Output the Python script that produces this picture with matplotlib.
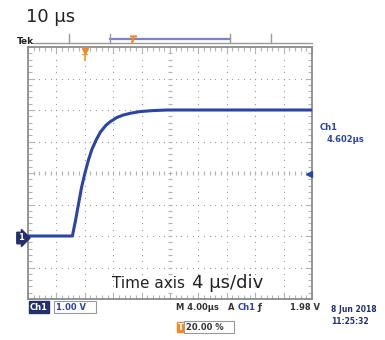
import matplotlib.pyplot as plt
from matplotlib.lines import Line2D
import numpy as np

# trace: time in us (trigger = 0), level in V
time_us = [-8.0, -1.75, -1.3, -0.9, -0.45, 0.0, 0.5, 1.0, 1.6, 2.2, 3.0,
           3.6, 4.5, 5.4, 6.5, 7.8, 9.5, 11.6, 32.0]
volts = [0.0, 0.0, 0.5, 1.0, 1.55, 1.98, 2.4, 2.75, 3.05, 3.3, 3.52,
         3.63, 3.76, 3.84, 3.9, 3.95, 3.98, 4.0, 4.0]

time_per_div = 4.0
volt_per_div = 1.0
trig_level = 1.98

W, H = 385, 340
BLUE = "#2b45a6"
NAVY = "#24306e"
ORANGE = "#f08a24"
GRAY = "#9a9a9a"
LIGHT = "#b4b4b4"


def fx(x):
    return x / W


def fy(y):
    return 1 - y / H


fig = plt.figure(figsize=(W / 100, H / 100), dpi=100)
ax = fig.add_axes([fx(28), fy(299), (312 - 28) / W, (299 - 47) / H])

x0, x1 = -8, 32
y0, y1 = -2, 6
ax.set_xlim(x0, x1)
ax.set_ylim(y0, y1)

# dotted graticule
xs_major = np.arange(x0, x1 + 0.01, time_per_div)
ys_major = np.arange(y0, y1 + 0.01, volt_per_div)
xs_minor = np.arange(x0, x1 + 0.01, time_per_div / 5)
ys_minor = np.arange(y0, y1 + 0.01, volt_per_div / 5)
for xv in xs_major[1:-1]:
    ax.scatter(np.full(len(ys_minor), xv), ys_minor, s=0.8, color=GRAY, lw=0, zorder=1)
for yv in ys_major[1:-1]:
    ax.scatter(xs_minor, np.full(len(xs_minor), yv), s=0.8, color=GRAY, lw=0, zorder=1)

# centre cross with small ticks
xc, yc = (x0 + x1) / 2, (y0 + y1) / 2
ax.plot(xs_minor, np.full(len(xs_minor), yc), ls="none", marker="|", ms=3.5, mew=0.8, color=LIGHT, zorder=1)
ax.plot(np.full(len(ys_minor), xc), ys_minor, ls="none", marker="_", ms=3.5, mew=0.8, color=LIGHT, zorder=1)

ax.set_xticks(xs_major)
ax.set_yticks(ys_major)
ax.set_xticks(xs_minor, minor=True)
ax.set_yticks(ys_minor, minor=True)
ax.tick_params(which="both", direction="in", top=True, right=True,
               labelbottom=False, labelleft=False, color=LIGHT, width=0.8)
ax.tick_params(which="major", length=4)
ax.tick_params(which="minor", length=3)
for s in ax.spines.values():
    s.set_color("#8c8c8c")
    s.set_linewidth(1.3)

ax.plot(time_us, volts, color=BLUE, lw=2.2, solid_joinstyle="round", zorder=3)

# trigger level arrow on the right edge
ax.plot([x1 - 0.4], [trig_level], marker="<", ms=5, color=BLUE, clip_on=False, zorder=4)
# trigger position marker
ax.plot([0], [y1 - 0.12], marker="v", ms=5, color=ORANGE, clip_on=False, zorder=4)
ax.text(0, y1 - 0.35, "T", color=ORANGE, fontsize=6, fontweight="bold",
        ha="center", va="center")

# ground marker
fig.text(fx(21), fy(238), "1", color="white", fontsize=6, fontweight="bold",
         ha="center", va="center",
         bbox=dict(boxstyle="rarrow,pad=0.15", fc=NAVY, ec=NAVY))

# top record bar
fig.text(fx(26), fy(22), "10 µs", fontsize=13, color="#222222", va="baseline")
fig.text(fx(17), fy(41), "Tek", fontsize=6.5, fontweight="bold", color="#222222", va="center")
fig.add_artist(Line2D([fx(33), fx(312)], [fy(43), fy(43)], color=GRAY, lw=1))
fig.add_artist(Line2D([fx(110), fx(230)], [fy(39), fy(39)], color="#7d82c8", lw=1.6))
for xb in [69, 110, 230, 271]:
    fig.add_artist(Line2D([fx(xb), fx(xb)], [fy(34), fy(43)], color=GRAY, lw=1))
fig.add_artist(Line2D([fx(133)], [fy(39)], marker="$T$", ms=5, color=ORANGE))

# right side readout
fig.text(fx(320), fy(128), "Ch1", fontsize=6, color=BLUE, fontweight="bold", va="center")
fig.text(fx(327), fy(140), "4.602µs", fontsize=6, color=BLUE, fontweight="bold", va="center")

# overlay caption
fig.text(fx(112), fy(288), "Time axis", fontsize=11, color="#222222", va="baseline")
fig.text(fx(192), fy(288), "4 µs/div", fontsize=13, color="#222222", va="baseline")

# bottom status line
fig.text(fx(30), fy(307), "Ch1", fontsize=6, color="white", fontweight="bold", va="center",
         bbox=dict(boxstyle="square,pad=0.15", fc=NAVY, ec=NAVY))
fig.text(fx(56), fy(307), "1.00 V   ", fontsize=6, color=BLUE, fontweight="bold", va="center",
         bbox=dict(boxstyle="square,pad=0.2", fc="white", ec=GRAY, lw=0.8))
fig.text(fx(176), fy(307), "M 4.00µs", fontsize=6, color="#333333", fontweight="bold", va="center")
fig.text(fx(228), fy(307), "A", fontsize=6, color="#333333", fontweight="bold", va="center")
fig.text(fx(238), fy(307), "Ch1", fontsize=6, color=BLUE, fontweight="bold", va="center")
fig.text(fx(258), fy(307), "ƒ", fontsize=6.5, color="#333333", fontweight="bold", va="center")
fig.text(fx(290), fy(307), "1.98 V", fontsize=6, color="#333333", fontweight="bold", va="center")

fig.text(fx(178), fy(327), "T", fontsize=6, color="white", fontweight="bold", va="center",
         bbox=dict(boxstyle="square,pad=0.1", fc=ORANGE, ec=ORANGE))
fig.text(fx(186), fy(327), "20.00 %   ", fontsize=6, color="#333333", fontweight="bold", va="center",
         bbox=dict(boxstyle="square,pad=0.2", fc="white", ec=GRAY, lw=0.8))

fig.text(fx(377), fy(310), "8 Jun 2018", fontsize=5.5, color=NAVY, fontweight="bold",
         ha="right", va="center")
fig.text(fx(369), fy(321), "11:25:32", fontsize=5.5, color=NAVY, fontweight="bold",
         ha="right", va="center")

fig.savefig("out.png", dpi=100)
